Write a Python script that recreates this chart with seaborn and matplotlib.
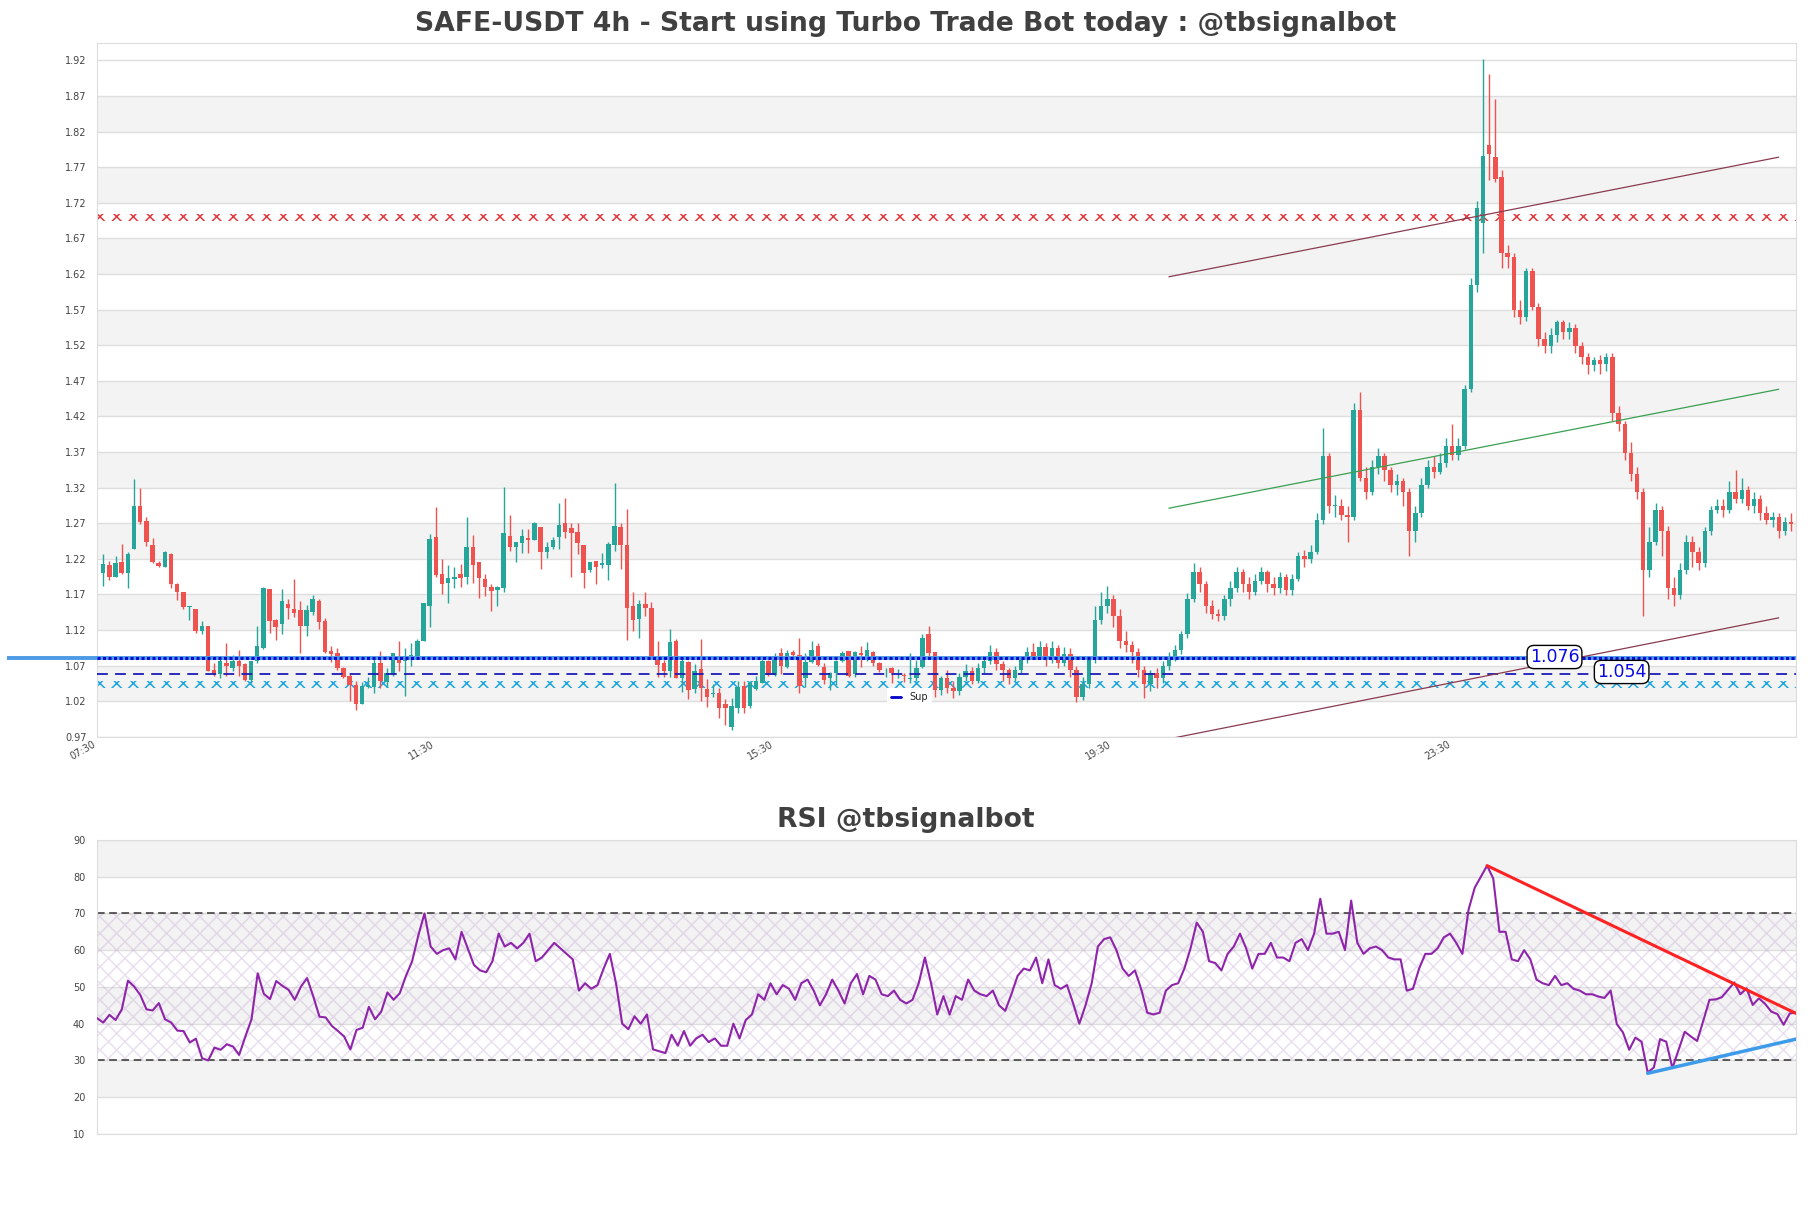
#!/usr/bin/env python3

import matplotlib
matplotlib.use("Agg")
import matplotlib.pyplot as plt
import numpy as np
import pandas as pd
import seaborn as sns
from matplotlib.lines import Line2D
from matplotlib.ticker import FormatStrFormatter

# --- candles ---
opens = [
    1.196, 1.207, 1.191, 1.212, 1.196, 1.229, 1.290, 1.269, 1.236, 1.210,
    1.205, 1.223, 1.181, 1.170, 1.148, 1.145, 1.115, 1.121, 1.060, 1.054,
    1.069, 1.062, 1.073, 1.068, 1.046, 1.072, 1.090, 1.173, 1.130, 1.124,
    1.153, 1.146, 1.144, 1.122, 1.141, 1.157, 1.128, 1.087, 1.083, 1.063,
    1.051, 1.038, 1.012, 1.036, 1.036, 1.069, 1.043, 1.054, 1.079, 1.072,
    1.079, 1.080, 1.101, 1.149, 1.247, 1.194, 1.182, 1.187, 1.194, 1.191,
    1.233, 1.212, 1.188, 1.176, 1.172, 1.175, 1.248, 1.232, 1.238, 1.245,
    1.243, 1.261, 1.225, 1.233, 1.246, 1.266, 1.259, 1.254, 1.236, 1.200,
    1.213, 1.207, 1.207, 1.235, 1.261, 1.236, 1.149, 1.132, 1.152, 1.147,
    1.078, 1.069, 1.058, 1.100, 1.049, 1.071, 1.033, 1.061, 1.033, 1.026,
    1.027, 1.012, 0.980, 1.006, 1.037, 1.009, 1.033, 1.042, 1.072, 1.053,
    1.083, 1.064, 1.085, 1.081, 1.048, 1.071, 1.094, 1.064, 1.049, 1.055,
    1.072, 1.086, 1.054, 1.084, 1.079, 1.085, 1.070, 1.062, 1.063, 1.055,
    1.053, 1.047, 1.049, 1.064, 1.110, 1.085, 1.031, 1.048, 1.035, 1.030,
    1.050, 1.058, 1.045, 1.062, 1.072, 1.085, 1.068, 1.060, 1.048, 1.060,
    1.075, 1.085, 1.080, 1.092, 1.075, 1.090, 1.070, 1.082, 1.060, 1.022,
    1.040, 1.075, 1.130, 1.150, 1.160, 1.135, 1.100, 1.095, 1.085, 1.060,
    1.040, 1.055, 1.048, 1.065, 1.078, 1.088, 1.110, 1.160, 1.198, 1.180,
    1.150, 1.138, 1.135, 1.160, 1.175, 1.198, 1.180, 1.170, 1.185, 1.198,
    1.180, 1.175, 1.190, 1.172, 1.188, 1.220, 1.215, 1.225, 1.270, 1.360,
    1.290, 1.290, 1.278, 1.275, 1.425, 1.330, 1.310, 1.345, 1.360, 1.340,
    1.320, 1.325, 1.310, 1.255, 1.280, 1.320, 1.345, 1.338, 1.350, 1.375,
    1.362, 1.375, 1.455, 1.600, 1.688, 1.797, 1.780, 1.752, 1.645, 1.640,
    1.565, 1.555, 1.620, 1.570, 1.525, 1.515, 1.530, 1.548, 1.535, 1.540,
    1.515, 1.500, 1.488, 1.495, 1.490, 1.500, 1.420, 1.405, 1.365, 1.335,
    1.310, 1.200, 1.240, 1.285, 1.255, 1.175, 1.165, 1.200, 1.240, 1.225,
    1.210, 1.255, 1.285, 1.290, 1.285, 1.310, 1.300, 1.312, 1.290, 1.300,
    1.280, 1.270, 1.275, 1.255, 1.268,
]
highs = [
    1.223, 1.213, 1.220, 1.237, 1.225, 1.328, 1.316, 1.274, 1.245, 1.213,
    1.227, 1.224, 1.182, 1.170, 1.149, 1.145, 1.128, 1.121, 1.069, 1.079,
    1.098, 1.081, 1.088, 1.069, 1.073, 1.121, 1.176, 1.174, 1.131, 1.174,
    1.160, 1.188, 1.157, 1.151, 1.165, 1.159, 1.133, 1.094, 1.090, 1.064,
    1.055, 1.045, 1.043, 1.050, 1.078, 1.087, 1.063, 1.083, 1.101, 1.091,
    1.097, 1.103, 1.154, 1.251, 1.289, 1.216, 1.207, 1.205, 1.209, 1.275,
    1.249, 1.212, 1.194, 1.181, 1.178, 1.317, 1.277, 1.240, 1.258, 1.258,
    1.268, 1.261, 1.239, 1.247, 1.295, 1.301, 1.266, 1.266, 1.236, 1.212,
    1.213, 1.224, 1.240, 1.322, 1.266, 1.286, 1.169, 1.158, 1.169, 1.155,
    1.101, 1.074, 1.117, 1.103, 1.077, 1.072, 1.068, 1.103, 1.047, 1.040,
    1.034, 1.019, 1.020, 1.044, 1.045, 1.044, 1.051, 1.080, 1.074, 1.083,
    1.091, 1.088, 1.088, 1.105, 1.083, 1.100, 1.098, 1.069, 1.057, 1.074,
    1.086, 1.087, 1.086, 1.093, 1.099, 1.086, 1.071, 1.063, 1.064, 1.061,
    1.056, 1.083, 1.074, 1.111, 1.121, 1.085, 1.052, 1.060, 1.045, 1.055,
    1.068, 1.064, 1.070, 1.080, 1.095, 1.090, 1.072, 1.063, 1.065, 1.080,
    1.092, 1.098, 1.100, 1.098, 1.100, 1.095, 1.092, 1.090, 1.065, 1.050,
    1.080, 1.150, 1.170, 1.178, 1.165, 1.145, 1.115, 1.100, 1.090, 1.065,
    1.060, 1.062, 1.072, 1.085, 1.095, 1.115, 1.168, 1.210, 1.205, 1.185,
    1.158, 1.145, 1.165, 1.185, 1.205, 1.202, 1.190, 1.195, 1.205, 1.200,
    1.190, 1.198, 1.195, 1.195, 1.225, 1.228, 1.235, 1.280, 1.400, 1.365,
    1.305, 1.300, 1.290, 1.435, 1.450, 1.345, 1.355, 1.372, 1.365, 1.345,
    1.335, 1.330, 1.315, 1.290, 1.330, 1.355, 1.360, 1.365, 1.385, 1.405,
    1.385, 1.460, 1.610, 1.718, 1.918, 1.897, 1.862, 1.762, 1.657, 1.645,
    1.580, 1.625, 1.624, 1.575, 1.535, 1.540, 1.552, 1.552, 1.548, 1.545,
    1.520, 1.505, 1.500, 1.502, 1.505, 1.505, 1.430, 1.410, 1.380, 1.345,
    1.315, 1.260, 1.295, 1.290, 1.262, 1.190, 1.210, 1.250, 1.248, 1.232,
    1.260, 1.290, 1.300, 1.300, 1.325, 1.340, 1.330, 1.318, 1.310, 1.305,
    1.290, 1.282, 1.280, 1.275, 1.280,
]
lows = [
    1.178, 1.186, 1.190, 1.195, 1.175, 1.229, 1.265, 1.234, 1.210, 1.205,
    1.204, 1.175, 1.158, 1.146, 1.130, 1.112, 1.110, 1.058, 1.052, 1.048,
    1.052, 1.059, 1.052, 1.045, 1.041, 1.070, 1.089, 1.112, 1.102, 1.110,
    1.132, 1.134, 1.084, 1.107, 1.137, 1.118, 1.083, 1.071, 1.060, 1.048,
    1.016, 1.004, 1.012, 1.034, 1.028, 1.035, 1.036, 1.052, 1.059, 1.023,
    1.065, 1.078, 1.100, 1.120, 1.190, 1.166, 1.154, 1.175, 1.176, 1.181,
    1.182, 1.161, 1.163, 1.142, 1.149, 1.169, 1.227, 1.212, 1.224, 1.224,
    1.242, 1.202, 1.217, 1.230, 1.230, 1.245, 1.191, 1.222, 1.175, 1.198,
    1.180, 1.203, 1.186, 1.227, 1.201, 1.102, 1.114, 1.105, 1.135, 1.078,
    1.050, 1.050, 1.050, 1.048, 1.029, 1.019, 1.027, 1.016, 1.008, 1.022,
    0.993, 0.982, 0.975, 1.000, 1.000, 1.007, 1.031, 1.041, 1.051, 1.052,
    1.054, 1.063, 1.076, 1.027, 1.036, 1.069, 1.065, 1.040, 1.032, 1.038,
    1.071, 1.050, 1.050, 1.064, 1.073, 1.066, 1.057, 1.050, 1.041, 1.048,
    1.043, 1.041, 1.045, 1.062, 1.078, 1.022, 1.025, 1.028, 1.020, 1.025,
    1.045, 1.040, 1.042, 1.055, 1.068, 1.060, 1.045, 1.040, 1.044, 1.055,
    1.070, 1.075, 1.075, 1.065, 1.070, 1.062, 1.065, 1.050, 1.015, 1.018,
    1.035, 1.070, 1.125, 1.140, 1.120, 1.090, 1.085, 1.070, 1.050, 1.020,
    1.030, 1.035, 1.042, 1.060, 1.072, 1.082, 1.105, 1.155, 1.170, 1.140,
    1.132, 1.128, 1.130, 1.150, 1.170, 1.170, 1.160, 1.165, 1.180, 1.170,
    1.165, 1.168, 1.165, 1.165, 1.185, 1.205, 1.210, 1.222, 1.265, 1.280,
    1.275, 1.270, 1.240, 1.270, 1.325, 1.300, 1.305, 1.335, 1.325, 1.310,
    1.305, 1.290, 1.220, 1.240, 1.275, 1.315, 1.330, 1.335, 1.345, 1.355,
    1.355, 1.370, 1.450, 1.590, 1.645, 1.748, 1.745, 1.624, 1.625, 1.555,
    1.545, 1.550, 1.565, 1.515, 1.505, 1.505, 1.520, 1.525, 1.525, 1.505,
    1.490, 1.475, 1.480, 1.475, 1.480, 1.410, 1.395, 1.355, 1.325, 1.300,
    1.135, 1.190, 1.235, 1.220, 1.160, 1.150, 1.160, 1.195, 1.205, 1.200,
    1.205, 1.250, 1.280, 1.275, 1.280, 1.295, 1.295, 1.285, 1.280, 1.270,
    1.265, 1.260, 1.245, 1.250, 1.255,
]
closes = [
    1.209, 1.191, 1.210, 1.196, 1.222, 1.290, 1.267, 1.239, 1.211, 1.206,
    1.226, 1.181, 1.170, 1.148, 1.149, 1.114, 1.121, 1.058, 1.054, 1.073,
    1.065, 1.073, 1.065, 1.046, 1.072, 1.093, 1.175, 1.128, 1.120, 1.157,
    1.147, 1.140, 1.121, 1.144, 1.159, 1.127, 1.085, 1.082, 1.062, 1.050,
    1.038, 1.012, 1.037, 1.039, 1.069, 1.044, 1.055, 1.083, 1.070, 1.080,
    1.080, 1.100, 1.154, 1.244, 1.193, 1.180, 1.189, 1.191, 1.189, 1.232,
    1.207, 1.189, 1.176, 1.171, 1.176, 1.252, 1.232, 1.239, 1.248, 1.243,
    1.266, 1.225, 1.232, 1.243, 1.264, 1.254, 1.252, 1.238, 1.196, 1.212,
    1.204, 1.210, 1.237, 1.262, 1.236, 1.147, 1.130, 1.152, 1.147, 1.078,
    1.067, 1.058, 1.099, 1.049, 1.073, 1.032, 1.059, 1.035, 1.022, 1.028,
    1.007, 1.007, 1.009, 1.036, 1.007, 1.041, 1.044, 1.073, 1.053, 1.080,
    1.065, 1.084, 1.081, 1.037, 1.071, 1.088, 1.067, 1.046, 1.056, 1.072,
    1.084, 1.052, 1.085, 1.081, 1.088, 1.069, 1.060, 1.063, 1.055, 1.056,
    1.051, 1.049, 1.063, 1.104, 1.083, 1.031, 1.048, 1.035, 1.030, 1.050,
    1.058, 1.045, 1.062, 1.072, 1.085, 1.068, 1.060, 1.048, 1.060, 1.075,
    1.085, 1.080, 1.092, 1.075, 1.090, 1.070, 1.082, 1.060, 1.022, 1.040,
    1.075, 1.130, 1.150, 1.160, 1.135, 1.100, 1.095, 1.085, 1.060, 1.040,
    1.055, 1.048, 1.065, 1.078, 1.088, 1.110, 1.160, 1.198, 1.180, 1.150,
    1.138, 1.135, 1.160, 1.175, 1.198, 1.180, 1.170, 1.185, 1.198, 1.180,
    1.175, 1.190, 1.172, 1.188, 1.220, 1.215, 1.225, 1.270, 1.360, 1.290,
    1.290, 1.278, 1.275, 1.425, 1.330, 1.310, 1.345, 1.360, 1.340, 1.320,
    1.325, 1.310, 1.255, 1.280, 1.320, 1.345, 1.338, 1.350, 1.375, 1.362,
    1.375, 1.455, 1.600, 1.708, 1.782, 1.784, 1.750, 1.645, 1.640, 1.565,
    1.555, 1.620, 1.570, 1.525, 1.515, 1.530, 1.548, 1.535, 1.540, 1.515,
    1.500, 1.488, 1.495, 1.490, 1.500, 1.420, 1.405, 1.365, 1.335, 1.310,
    1.200, 1.240, 1.285, 1.255, 1.175, 1.165, 1.200, 1.240, 1.225, 1.210,
    1.255, 1.285, 1.290, 1.285, 1.310, 1.300, 1.312, 1.290, 1.300, 1.280,
    1.270, 1.275, 1.255, 1.268, 1.265,
]

rsi = [
    41.5, 40.3, 42.4, 41.0, 43.9, 51.7, 50.1, 47.8, 43.9, 43.6,
    45.6, 41.2, 40.3, 38.1, 38.0, 34.9, 35.9, 30.6, 30.0, 33.5,
    32.9, 34.4, 33.8, 31.5, 36.5, 41.2, 53.7, 48.1, 46.7, 51.6,
    50.3, 49.2, 46.5, 50.1, 52.4, 47.4, 41.9, 41.7, 39.4, 38.0,
    36.5, 33.0, 38.3, 38.9, 44.6, 41.2, 43.3, 48.5, 46.5, 48.3,
    53.0, 57.0, 64.0, 70.0, 61.0, 59.0, 60.0, 60.5, 57.5, 65.0,
    60.5, 56.0, 54.5, 54.0, 57.0, 64.5, 61.0, 62.0, 60.5, 62.0,
    64.5, 57.0, 58.0, 60.0, 62.0, 60.5, 59.0, 57.5, 49.0, 51.0,
    49.5, 50.5, 55.0, 59.0, 51.0, 40.0, 38.5, 42.0, 40.0, 42.5,
    33.0, 32.5, 32.0, 37.0, 34.0, 38.0, 34.0, 36.0, 37.0, 35.0,
    36.0, 34.0, 34.0, 40.0, 36.0, 41.0, 42.5, 48.0, 46.5, 51.0,
    48.0, 50.5, 49.5, 46.5, 51.0, 52.0, 49.0, 45.0, 48.0, 52.0,
    49.0, 45.5, 51.0, 53.5, 48.0, 53.0, 52.0, 48.0, 47.5, 49.0,
    46.5, 45.5, 46.5, 51.0, 58.0, 51.0, 42.5, 47.5, 42.5, 47.5,
    46.5, 52.0, 49.0, 48.0, 47.5, 49.0, 45.0, 43.5, 48.0, 53.0,
    55.0, 54.5, 58.0, 51.0, 57.5, 50.5, 49.5, 50.5, 45.5, 40.0,
    45.0, 51.0, 61.0, 63.0, 63.5, 60.0, 55.0, 53.0, 54.5, 49.5,
    43.0, 42.5, 43.0, 49.0, 50.5, 51.0, 55.0, 60.5, 67.5, 65.0,
    57.0, 56.5, 54.5, 59.0, 61.0, 64.5, 60.5, 55.0, 59.0, 59.0,
    62.0, 58.0, 58.0, 57.0, 62.0, 63.0, 60.0, 64.5, 74.0, 64.5,
    64.5, 65.0, 60.0, 73.5, 62.0, 59.0, 60.5, 61.0, 60.0, 58.0,
    57.5, 57.5, 49.0, 49.5, 55.0, 59.0, 59.0, 60.5, 63.5, 64.5,
    62.0, 59.0, 71.0, 77.0, 80.0, 83.0, 79.5, 65.0, 65.0, 57.5,
    57.0, 60.0, 57.5, 52.0, 51.0, 50.5, 53.0, 50.5, 51.0, 49.5,
    49.0, 48.0, 48.0, 47.4, 47.0, 49.0, 39.9, 37.6, 32.9, 36.2,
    35.1, 26.7, 28.1, 35.8, 35.1, 27.9, 32.9, 37.8, 36.5, 35.3,
    40.8, 46.5, 46.6, 47.2, 49.2, 51.2, 48.0, 49.6, 45.1, 46.9,
    45.4, 43.3, 42.6, 39.7, 42.8, 43.0,
]

# x tick labels and their candle positions
tick_pos = [-1, 54, 109, 164, 219]
tick_labels = ["07:30", "11:30", "15:30", "19:30", "23:30"]

# levels
resist_zone = (1.690, 1.700)
support_zone = (1.0345, 1.0445)
level_a = 1.076
level_b = 1.054

# channel drawn on the price chart
chan_x = [173, 272]
chan_upper = [1.612, 1.780]
chan_mid = [1.287, 1.454]
chan_lower = [0.963, 1.133]

# rsi trend lines
rsi_down_x = [225, 275]
rsi_down_y = [83.0, 42.8]
rsi_up_x = [251, 275]
rsi_up_y = [26.5, 35.8]

df = pd.DataFrame({"open": opens, "high": highs, "low": lows, "close": closes})
df["idx"] = np.arange(len(df))
up = df["close"] >= df["open"]
GREEN, RED = "#26a69a", "#ef5350"

sns.set_style("white")
plt.rcParams["font.family"] = ["DejaVu Sans"]
plt.rcParams["hatch.linewidth"] = 1.1

fig = plt.figure(figsize=(18.11, 12.08), dpi=100)
ax = fig.add_axes([0.0536, 0.3901, 0.9381, 0.5741])
ax2 = fig.add_axes([0.0536, 0.0613, 0.9381, 0.2434])

# ---------- price panel ----------
yticks = 0.966 + 0.05 * np.arange(20)
for k in range(1, len(yticks) - 1, 2):
    ax.axhspan(yticks[k], yticks[k + 1], color="#f3f3f3", lw=0, zorder=0)
ax.set_yticks(yticks)
ax.yaxis.set_major_formatter(FormatStrFormatter("%.2f"))
ax.grid(axis="y", color="#dedede", lw=1, zorder=0.5)
ax.set_axisbelow(True)

# hatched zones
ax.axhspan(*resist_zone, facecolor="none", edgecolor="#e0393e", hatch="xx", lw=0, zorder=2)
ax.axhspan(*support_zone, facecolor="none", edgecolor="#1aa6e0", hatch="xx", lw=0, zorder=2)

colors = np.where(up, GREEN, RED)
ax.vlines(df["idx"], df["low"], df["high"], colors=colors, lw=1, zorder=3)
body_lo = np.minimum(df["open"], df["close"])
body_h = np.maximum((df["close"] - df["open"]).abs(), 0.0012)
ax.bar(df["idx"], body_h, bottom=body_lo, width=0.72, color=colors, lw=0, zorder=3)

ax.plot([-0.053, 1.0], [level_a, level_a], transform=ax.get_yaxis_transform(),
        color="#4d9be6", lw=2.8, clip_on=False, zorder=4, solid_capstyle="butt")
ax.axhline(level_a, color="#0a0ad0", ls=(0, (1, 0.8)), lw=2.2, zorder=4.5)
ax.axhline(level_b, color="#1c1cb8", ls=(0, (6, 4)), lw=1.3, zorder=4)

ax.plot(chan_x, chan_upper, color="#8a3b50", lw=0.9, zorder=4)
ax.plot(chan_x, chan_mid, color="#3a9f50", lw=0.9, zorder=4)
ax.plot(chan_x, chan_lower, color="#8a3b50", lw=0.9, zorder=4)

box = dict(boxstyle="round,pad=0.15,rounding_size=0.4", fc="white", ec="black", lw=1)
ax.text(235.6, level_a + 0.002, f"{level_a:.3f}", color="#0a0ae0", fontsize=12.5,
        ha="center", va="center", bbox=box, zorder=6)
ax.text(246.5, level_b + 0.003, f"{level_b:.3f}", color="#0a0ae0", fontsize=12.5,
        ha="center", va="center", bbox=box, zorder=6)

leg = ax.legend(handles=[Line2D([0], [0], color="#0000c8", lw=2)], labels=["Sup"],
                loc="center", bbox_to_anchor=(0.478, 0.057), fontsize=7,
                handlelength=1.1, frameon=True, framealpha=1, edgecolor="none",
                fancybox=False)
leg.set_zorder(7)

ax.set_xlim(-1.0, 274.8)
ax.set_ylim(0.966, 1.940)
ax.set_xticks(tick_pos)
ax.set_xticklabels(tick_labels, rotation=30, ha="right", fontsize=7, color="#444444")
ax.tick_params(axis="x", length=0, pad=2)
ax.tick_params(axis="y", labelsize=7, labelcolor="#444444", length=4, color="#cccccc")
for s in ax.spines.values():
    s.set_color("#dddddd")

# ---------- RSI panel ----------
rsi_df = pd.DataFrame({"i": np.arange(len(rsi)), "rsi": rsi})
for lo in (20, 40, 60, 80):
    ax2.axhspan(lo, lo + 10, color="#f3f3f3", lw=0, zorder=0)
ax2.axhspan(30, 70, facecolor="none", edgecolor=(0.72, 0.6, 0.8, 0.3), hatch="xx", lw=0, zorder=0.6)
ax2.set_yticks(range(10, 91, 10))
ax2.set_yticks(range(15, 90, 10), minor=True)
ax2.grid(axis="y", which="major", color="#dedede", lw=1, zorder=0.5)
ax2.set_axisbelow(True)
ax2.axhline(70, color="#333333", ls=(0, (5, 3)), lw=1.1, zorder=2)
ax2.axhline(30, color="#333333", ls=(0, (5, 3)), lw=1.1, zorder=2)

sns.lineplot(data=rsi_df, x="i", y="rsi", ax=ax2, color="#8e24aa", lw=1.5, zorder=3)
ax2.plot(rsi_down_x, rsi_down_y, color="#ff2222", lw=2.2, zorder=4)
ax2.plot(rsi_up_x, rsi_up_y, color="#3d9be9", lw=2.5, zorder=4)

ax2.set_xlim(0, len(rsi) - 1)
ax2.set_ylim(10, 90)
ax2.set_xlabel("")
ax2.set_ylabel("")
ax2.set_xticks([])
ax2.tick_params(axis="y", which="major", labelsize=7, labelcolor="#444444", length=5, color="#aaaaaa")
ax2.tick_params(axis="y", which="minor", length=2.5, color="#aaaaaa")
for s in ax2.spines.values():
    s.set_color("#dddddd")

fig.text(0.5, 0.980, "SAFE-USDT 4h - Start using Turbo Trade Bot today : @tbsignalbot",
         ha="center", va="center", fontsize=19.2, fontweight="bold", color="#404040")
fig.text(0.5, 0.321, "RSI @tbsignalbot", ha="center", va="center",
         fontsize=19.2, fontweight="bold", color="#404040")

fig.savefig("out.png", dpi=100)
